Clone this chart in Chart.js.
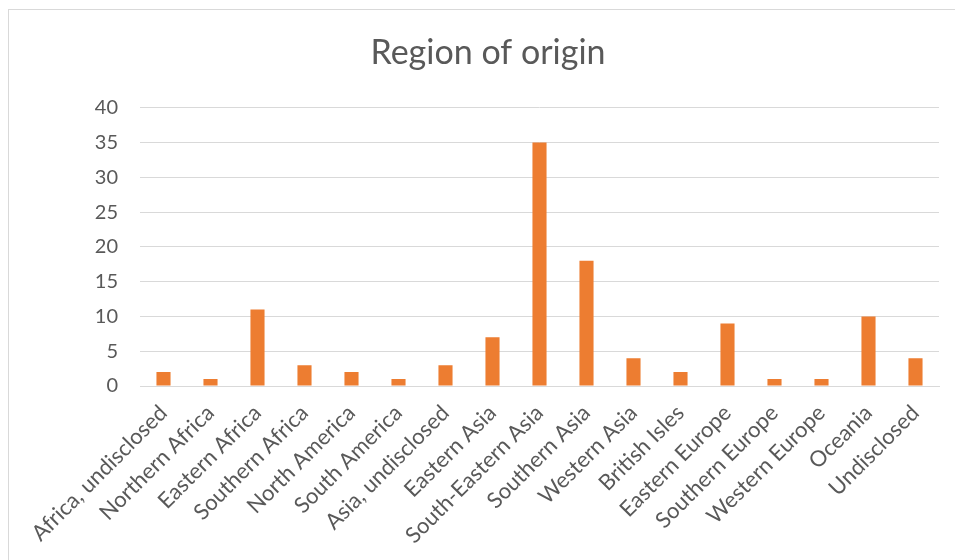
<!DOCTYPE html>
<html>
<head>
<meta charset="utf-8">
<script src="https://cdn.jsdelivr.net/npm/chart.js@4"></script>
<style>
  html, body { margin: 0; padding: 0; background: #fff; }
  #wrap { position: relative; width: 955px; height: 560px; overflow: hidden; }
  #frame { position: absolute; left: 8px; top: 9px; width: 960px; height: 600px; border: 1px solid #d9d9d9; box-sizing: border-box; }
  canvas { position: absolute; left: 0; top: 0; }
</style>
</head>
<body>
<div id="wrap">
  <div id="frame"></div>
  <canvas id="chart" width="955" height="560"></canvas>
</div>
<script>
const regions = [
  "Africa, undisclosed", "Northern Africa", "Eastern Africa", "Southern Africa",
  "North America", "South America", "Asia, undisclosed", "Eastern Asia",
  "South-Eastern Asia", "Southern Asia", "Western Asia", "British Isles",
  "Eastern Europe", "Southern Europe", "Western Europe", "Oceania", "Undisclosed"
];
const counts = [2, 1, 11, 3, 2, 1, 3, 7, 35, 18, 4, 2, 9, 1, 1, 10, 4];
const yTicks = [0, 5, 10, 15, 20, 25, 30, 35, 40];

const textColor = "#595959";
const gridColor = "#d9d9d9";
const fontFamily = "Lato, 'Liberation Sans', sans-serif";

const ctx = document.getElementById("chart").getContext("2d");

new Chart(ctx, {
  type: "bar",
  data: {
    labels: regions,
    datasets: [{
      data: counts,
      backgroundColor: "#ed7d31",
      borderWidth: 0,
      categoryPercentage: 1,
      barPercentage: 0.3
    }]
  },
  options: {
    responsive: false,
    animation: false,
    // left padding shifts the title centre; the y axis width below makes up the rest
    layout: { padding: { left: 37, right: 16, top: 0, bottom: 0 } },
    plugins: {
      legend: { display: false },
      tooltip: { enabled: false },
      title: {
        display: true,
        text: "Region of origin",
        color: textColor,
        font: { family: fontFamily, size: 34, weight: "normal" },
        padding: { top: 33, bottom: 34 }
      }
    },
    scales: {
      x: {
        offset: true,
        grid: { display: false, drawTicks: false },
        border: { display: true, color: gridColor, width: 1 },
        ticks: {
          color: textColor,
          font: { family: fontFamily, size: 22 },
          maxRotation: 45,
          minRotation: 45,
          autoSkip: false,
          padding: 14
        },
        afterFit: scale => { scale.height = 174; }
      },
      y: {
        min: 0,
        max: 40,
        afterBuildTicks: scale => { scale.ticks = yTicks.map(v => ({ value: v })); },
        grid: { color: gridColor, lineWidth: 1, drawTicks: false },
        border: { display: false },
        ticks: {
          color: textColor,
          font: { family: fontFamily, size: 20 },
          padding: 22
        },
        afterFit: scale => { scale.width = 103; }
      }
    }
  }
});
</script>
</body>
</html>
